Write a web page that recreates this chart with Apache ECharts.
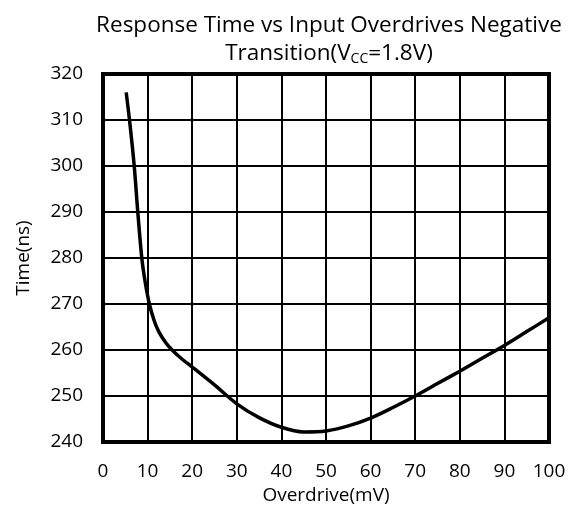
<!DOCTYPE html>
<html>
<head>
<meta charset="utf-8">
<script src="https://cdn.jsdelivr.net/npm/echarts@6/dist/echarts.min.js"></script>
<style>
  html, body { margin: 0; padding: 0; background: #fff; }
  #chart { width: 573px; height: 511px; }
</style>
</head>
<body>
<div id="chart"></div>
<script>
// overdrive (mV) and response time (ns)
const overdrive = [5.2, 6, 7, 7.8, 8.7, 9.5, 10.4, 11.5, 12.5, 14, 15.5, 17.5, 20, 25, 30, 35, 40, 45, 50, 55, 60, 65, 70, 75, 80, 85, 90, 95, 100];
const timeNs = [316, 309.5, 300, 290, 280, 274.5, 270, 266.3, 264, 261.7, 260, 258.2, 256.3, 252.4, 248.3, 245.3, 243.2, 242.2, 242.4, 243.5, 245.2, 247.5, 250, 252.7, 255.4, 258.2, 261, 264, 267];

const chart = echarts.init(document.getElementById('chart'));
const fontFamily = 'Open Sans, Noto Sans, sans-serif';

const option = {
    backgroundColor: '#fff',
    animation: false,
    textStyle: { fontFamily: fontFamily, color: '#000' },
    title: {
        text: '{t|Response Time vs Input Overdrives Negative}\n{t|Transition(V}{sub|CC}{t|=1.8V)}',
        left: 324,
        textAlign: 'center',
        top: 7,
        textStyle: {
            fontWeight: 'normal',
            rich: {
                t: { fontSize: 22.5, fontWeight: 'normal', fontFamily: fontFamily, color: '#000', lineHeight: 28 },
                sub: { fontSize: 14, fontWeight: 'normal', fontFamily: fontFamily, color: '#000', lineHeight: 28, padding: [11, 0, 0, 0] }
            }
        }
    },
    grid: {
        left: 103,
        right: 24,
        top: 74,
        bottom: 69,
        show: true,
        borderColor: '#000',
        borderWidth: 4
    },
    xAxis: {
        type: 'value',
        min: 0,
        max: 100,
        interval: 10,
        name: 'Overdrive(mV)',
        nameLocation: 'middle',
        nameGap: 38,
        nameTextStyle: { fontSize: 19, color: '#000' },
        axisLine: { lineStyle: { color: '#000', width: 4 } },
        axisTick: { show: false },
        axisLabel: { fontSize: 19, color: '#000', margin: 20 },
        splitLine: { show: true, lineStyle: { color: '#000', width: 2 } }
    },
    yAxis: {
        type: 'value',
        min: 240,
        max: 320,
        interval: 10,
        name: 'Time(ns)',
        nameLocation: 'middle',
        nameGap: 70,
        nameTextStyle: { fontSize: 19, color: '#000' },
        axisLine: { show: true, lineStyle: { color: '#000', width: 4 } },
        axisTick: { show: false },
        axisLabel: { fontSize: 19, color: '#000', margin: 20 },
        splitLine: { show: true, lineStyle: { color: '#000', width: 2 } }
    },
    series: [{
        type: 'line',
        data: overdrive.map((x, i) => [x, timeNs[i]]),
        smooth: 0.3,
        showSymbol: false,
        lineStyle: { color: '#000', width: 3.5 }
    }]
};

chart.setOption(option);
</script>
</body>
</html>
